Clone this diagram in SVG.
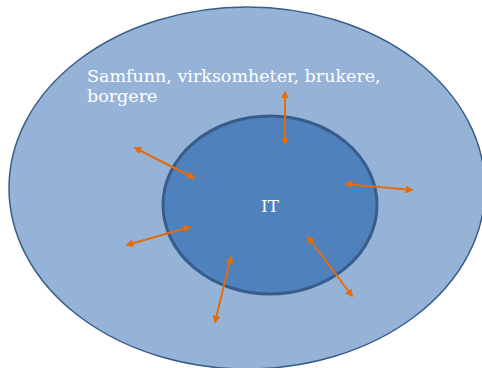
<svg xmlns="http://www.w3.org/2000/svg" width="482" height="368" viewBox="0 0 482 368">
<defs>
<style>
.lbl{font-family:"DejaVu Serif","Liberation Serif",serif;fill:#ffffff}
.arr{stroke:#E46C0A;stroke-width:2;fill:none;marker-start:url(#ah);marker-end:url(#ah)}
</style>
<marker id="ah" viewBox="0 0 10 10" refX="8" refY="5" markerWidth="4" markerHeight="4" orient="auto-start-reverse" markerUnits="strokeWidth">
<path d="M0,0 L10,5 L0,10 z" fill="#E46C0A"/>
</marker>
</defs>
<rect width="482" height="368" fill="#ffffff"/>
<g id="outer">
<ellipse cx="247" cy="188" rx="238" ry="181" fill="#95B3D7" stroke="#385D8A" stroke-width="1.5"/>
<text class="lbl" x="87" y="82" font-size="17.5">Samfunn, virksomheter, brukere,</text>
<text class="lbl" x="87" y="102" font-size="17.5">borgere</text>
</g>
<g id="inner">
<ellipse cx="270" cy="205" rx="107" ry="89" fill="#4F81BD" stroke="#385D8A" stroke-width="3"/>
<text class="lbl" x="270" y="212" font-size="17" text-anchor="middle">IT</text>
</g>
<g id="connectors">
<line class="arr" x1="285" y1="92" x2="285" y2="144"/>
<line class="arr" x1="135" y1="148" x2="194" y2="178"/>
<line class="arr" x1="346" y1="184" x2="412" y2="190"/>
<line class="arr" x1="127" y1="245" x2="190" y2="227"/>
<line class="arr" x1="231" y1="257" x2="215" y2="322"/>
<line class="arr" x1="308" y1="237" x2="352" y2="296"/>
</g>
</svg>
